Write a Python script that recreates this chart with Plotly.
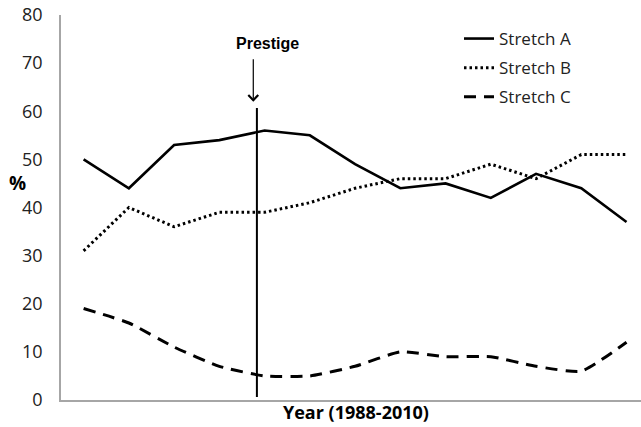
import plotly.graph_objects as go

x_idx = list(range(13))
stretch_a = [50, 44, 53, 54, 56, 55, 49, 44, 45, 42, 47, 44, 37]
stretch_b = [31, 40, 36, 39, 39, 41, 44, 46, 46, 49, 46, 51, 51]
stretch_c = [19, 16, 11, 7, 5, 5, 7, 10, 9, 9, 7, 6, 12]
y_ticks = [0, 10, 20, 30, 40, 50, 60, 70, 80]
prestige_x = 3.83
prestige_top = 60.7

FONT = "Open Sans"

W, H = 641, 427
L, R, T, B = 61, 0, 15, 27
pw, ph = W - L - R, H - T - B


def px(xp):
    return (xp - L) / pw


def py(yp):
    return 1 - (yp - T) / ph


fig = go.Figure()
fig.add_trace(go.Scatter(x=x_idx, y=stretch_a, mode="lines", name="Stretch A",
                         legendgroup="a",
                         line=dict(color="black", width=2.6)))
fig.add_trace(go.Scatter(x=x_idx, y=stretch_b, mode="lines", name="Stretch B",
                         legendgroup="b",
                         line=dict(color="black", width=3, dash="2.5px,3px")))
fig.add_trace(go.Scatter(x=x_idx, y=stretch_c, mode="lines", name="Stretch C",
                         legendgroup="c",
                         line=dict(color="black", width=3, dash="12px,8px",
                                   shape="spline", smoothing=0.5)))

fig.add_shape(type="line", x0=prestige_x, x1=prestige_x, y0=0.6, y1=prestige_top,
              xref="x", yref="y", line=dict(color="black", width=2))

fig.add_annotation(x=3.75, y=62.0, xref="x", yref="y", text="", showarrow=True,
                   ax=0, ay=-44, arrowhead=4, arrowsize=1.6, arrowwidth=1.2,
                   arrowcolor="black")
fig.add_annotation(x=px(267), y=py(43), xref="paper", yref="paper",
                   xanchor="center", yanchor="middle",
                   text="<b>Prestige</b>", showarrow=False,
                   font=dict(family="Liberation Sans", size=16, color="black"))
fig.add_annotation(x=px(17), y=py(183), xref="paper", yref="paper",
                   xanchor="center", yanchor="middle",
                   text="<b>%</b>", showarrow=False,
                   font=dict(family=FONT, size=19, color="black"))
fig.add_annotation(x=px(356), y=py(412), xref="paper", yref="paper",
                   xanchor="center", yanchor="middle",
                   text="<b>Year (1988-2010)</b>", showarrow=False,
                   font=dict(family=FONT, size=18, color="black"))

fig.update_layout(
    width=W, height=H,
    margin=dict(l=L, r=R, t=T, b=B, autoexpand=False),
    plot_bgcolor="white", paper_bgcolor="white",
    font=dict(family=FONT, color="black"),
    showlegend=True,
    legend=dict(x=px(459), y=py(21), xanchor="left", yanchor="top",
                font=dict(family=FONT, size=17, color="#222"),
                tracegroupgap=4, bgcolor="rgba(0,0,0,0)"),
    xaxis=dict(range=[-0.5, 12.32], showticklabels=False, showgrid=False,
               zeroline=False, showline=True, linecolor="#a6a6a6", linewidth=1.5,
               ticks=""),
    yaxis=dict(range=[0, 80], tickvals=y_ticks, showgrid=False, zeroline=False,
               showline=True, linecolor="#a6a6a6", linewidth=1.5, ticks="",
               ticklabelstandoff=13, automargin=False,
               tickfont=dict(family=FONT, size=18, color="#222")),
)

fig.write_html("out.html", config={"displayModeBar": False},
               post_script="document.body.style.margin='0px';")
